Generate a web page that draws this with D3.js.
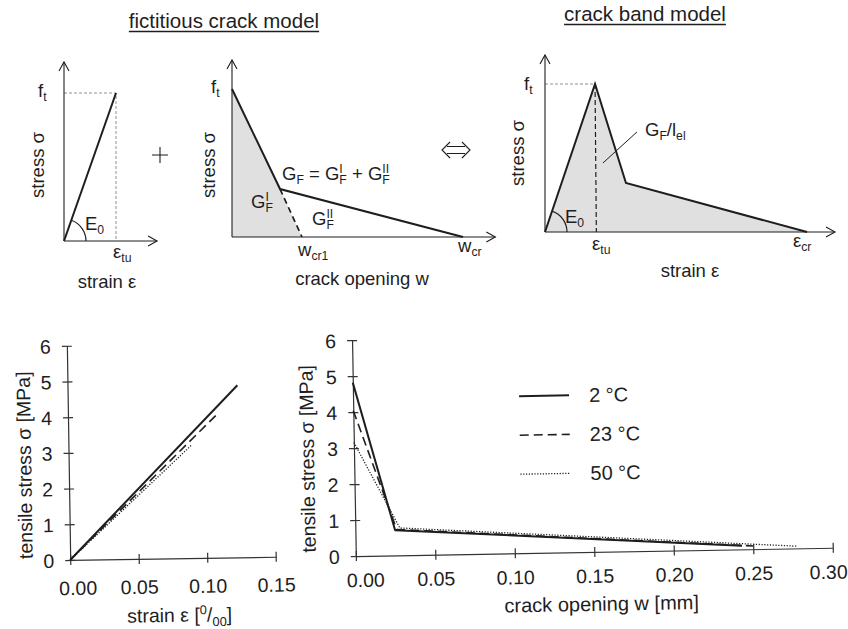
<!DOCTYPE html>
<html><head><meta charset="utf-8">
<script src="https://cdn.jsdelivr.net/npm/d3@7"></script>
<style>
body{margin:0;background:#fff;}
svg{display:block;background:#fff;}
text{font-family:"Liberation Sans",Arial,Helvetica,sans-serif;fill:#1e1e1e;}
</style></head><body>
<svg id="c" width="848" height="629"></svg>
<script>
// ================= DATA =================
// bottom-left: tensile stress vs strain (pre-peak)
const strainTicks = [0, 0.05, 0.10, 0.15];
const stressTicks = [0, 1, 2, 3, 4, 5, 6];
const wTicks = [0, 0.05, 0.10, 0.15, 0.20, 0.25, 0.30];
const tempLabels = ["2 °C", "23 °C", "50 °C"];
const strain2C  = [[0, 0], [0.124, 4.82]];
const strain23C = [[0, 0], [0.110, 4.06]];
const strain50C = [[0, 0], [0.090, 3.17]];
// bottom-right: softening curves (stress vs crack opening)
const soft2C  = [[0, 4.82], [0.025, 0.70], [0.243, 0.10]];
const soft23C = [[0, 4.04], [0.026, 0.72], [0.250, 0.09]];
const soft50C = [[0, 3.16], [0.028, 0.76], [0.278, 0.06]];
// schematic sketches, normalised units (f_t = 1)
const sk1Line   = [[0, 0], [1, 1]];                 // eps_tu = 1
const sk1Guide  = [[0, 1], [1, 1], [1, 0]];
const sk2Soft   = [[0, 1], [0.208, 0.324], [1, 0]]; // w_cr = 1
const sk2Dash   = [[0.208, 0.324], [0.303, 0]];     // w_cr1
const sk2ShadeI = [[0, 0], [0, 1], [0.208, 0.324], [0.303, 0]];
const sk3Curve  = [[0, 0], [0.191, 1], [0.309, 0.331], [1, 0]]; // eps_cr = 1
const sk3GuideH = [[0, 1], [0.191, 1]];
const sk3GuideV = [[0.191, 1], [0.196, 0]];
const sk3Leader = [[0.351, 0.676], [0.221, 0.466]];

// ================= HELPERS =================
const svg = d3.select("#c");
const INK = "#1e1e1e";

function rich(g, x, y, parts, size, opts = {}) {
  const t = g.append("text").attr("x", x).attr("y", y).attr("font-size", size);
  if (opts.anchor) t.attr("text-anchor", opts.anchor);
  if (opts.transform) t.attr("transform", opts.transform);
  let cur = 0, pend = 0;
  const sm = size * 0.66, supOff = -size * 0.38, subOff = size * 0.24;
  const add = (txt, off, fs, dx) => {
    const ts = t.append("tspan").attr("dy", off - cur).text(txt);
    if (fs) ts.attr("font-size", fs);
    if (dx) ts.attr("dx", dx);
    cur = off;
    return ts;
  };
  parts.forEach(p => {
    if (typeof p === "string") { add(p, 0, null, pend); pend = 0; }
    else if (p.sup != null && p.sub != null) {
      const a = add(p.sup, supOff, sm, pend);
      const wa = a.node().getComputedTextLength();
      const b = add(p.sub, subOff, sm, -wa);
      const wb = b.node().getComputedTextLength();
      pend = Math.max(0, wa - wb);
    } else if (p.sup != null) { add(p.sup, supOff, sm, pend); pend = 0; }
    else if (p.sub != null) { add(p.sub, subOff, sm, pend); pend = 0; }
  });
  return t;
}
function arrowUp(g, x, y) {
  g.append("path").attr("d", `M${x-5},${y+9}L${x},${y}L${x+5},${y+9}`)
    .attr("fill", "none").attr("stroke", INK).attr("stroke-width", 1.1);
}
function arrowRight(g, x, y) {
  g.append("path").attr("d", `M${x-9},${y-5}L${x},${y}L${x-9},${y+5}`)
    .attr("fill", "none").attr("stroke", INK).attr("stroke-width", 1.1);
}
function sketchAxes(g, sx, sy, xmax, ymax) {
  g.append("line").attr("x1", sx(0)).attr("y1", sy(0)).attr("x2", sx(0)).attr("y2", sy(ymax))
    .attr("stroke", INK).attr("stroke-width", 1.1);
  g.append("line").attr("x1", sx(0)).attr("y1", sy(0)).attr("x2", sx(xmax)).attr("y2", sy(0))
    .attr("stroke", INK).attr("stroke-width", 1.1);
  arrowUp(g, sx(0), sy(ymax));
  arrowRight(g, sx(xmax), sy(0));
}
function title(x, y, txt) {
  const t = svg.append("text").attr("x", x).attr("y", y).attr("text-anchor", "middle")
    .attr("font-size", 20.5).text(txt);
  const w = t.node().getComputedTextLength();
  svg.append("line").attr("x1", x - w / 2).attr("x2", x + w / 2).attr("y1", y + 3.5).attr("y2", y + 3.5)
    .attr("stroke", INK).attr("stroke-width", 1.3);
}
const FS = 18.5;

// ================= TITLES =================
title(224, 28, "fictitious crack model");
title(645, 21, "crack band model");

// ================= SKETCH 1 =================
{
  const g = svg.append("g");
  const sx = d3.scaleLinear([0, 1], [64, 116]);
  const sy = d3.scaleLinear([0, 1], [241, 93]);
  const ln = d3.line().x(d => sx(d[0])).y(d => sy(d[1]));
  g.append("path").attr("d", ln(sk1Guide)).attr("fill", "none").attr("stroke", "#777")
    .attr("stroke-width", 0.8).attr("stroke-dasharray", "3,2");
  sketchAxes(g, sx, sy, 1.79, 1.21);
  g.append("path").attr("d", ln(sk1Line)).attr("fill", "none").attr("stroke", INK).attr("stroke-width", 2);
  const ang = Math.atan2(sy(1) - sy(0), sx(1) - sx(0));
  const p = d3.path(); p.arc(sx(0), sy(0), 22, ang, 0);
  g.append("path").attr("d", p.toString()).attr("fill", "none").attr("stroke", INK).attr("stroke-width", 1.2);
  rich(g, 38, 97, ["f", {sub: "t"}], FS);
  rich(g, 0, 0, ["stress σ"], FS, {anchor: "middle", transform: "translate(44,165) rotate(-90)"});
  rich(g, 85, 230, ["E", {sub: "0"}], FS);
  rich(g, 113, 258, ["ε", {sub: "tu"}], FS);
  rich(g, 107, 288, ["strain ε"], FS, {anchor: "middle"});
  // plus sign
  g.append("path").attr("d", "M152,155H168M160,147V163").attr("stroke", INK).attr("stroke-width", 1.1);
}

// ================= SKETCH 2 =================
{
  const g = svg.append("g");
  const sx = d3.scaleLinear([0, 1], [232, 463]);
  const sy = d3.scaleLinear([0, 1], [237, 89]);
  const ln = d3.line().x(d => sx(d[0])).y(d => sy(d[1]));
  g.append("path").attr("d", ln(sk2ShadeI) + "Z").attr("fill", "#e0e0e0").attr("stroke", "none");
  sketchAxes(g, sx, sy, 1.14, 1.196);
  g.append("path").attr("d", ln(sk2Soft)).attr("fill", "none").attr("stroke", INK).attr("stroke-width", 2);
  g.append("path").attr("d", ln(sk2Dash)).attr("fill", "none").attr("stroke", INK)
    .attr("stroke-width", 1.7).attr("stroke-dasharray", "6,4");
  rich(g, 211, 93, ["f", {sub: "t"}], FS);
  rich(g, 0, 0, ["stress σ"], FS, {anchor: "middle", transform: "translate(215,165) rotate(-90)"});
  rich(g, 282, 180, ["G", {sub: "F"}, " = G", {sup: "I", sub: "F"}, " + G", {sup: "II", sub: "F"}], FS);
  rich(g, 251, 208, ["G", {sup: "I", sub: "F"}], FS);
  rich(g, 312, 225, ["G", {sup: "II", sub: "F"}], FS);
  rich(g, 298, 256, ["w", {sub: "cr1"}], FS);
  rich(g, 458, 252, ["w", {sub: "cr"}], FS);
  rich(g, 362, 285, ["crack opening w"], FS, {anchor: "middle"});
  // equivalence arrow
  g.append("path").attr("d", "M447,146.5H465M447,153.5H465M450,142L442,150L450,158M462,142L470,150L462,158")
    .attr("fill", "none").attr("stroke", INK).attr("stroke-width", 1.1);
}

// ================= SKETCH 3 =================
{
  const g = svg.append("g");
  const sx = d3.scaleLinear([0, 1], [545, 807]);
  const sy = d3.scaleLinear([0, 1], [232, 84]);
  const ln = d3.line().x(d => sx(d[0])).y(d => sy(d[1]));
  g.append("path").attr("d", ln(sk3Curve) + "Z").attr("fill", "#e0e0e0").attr("stroke", "none");
  g.append("path").attr("d", ln(sk3GuideH)).attr("fill", "none").attr("stroke", "#777")
    .attr("stroke-width", 0.8).attr("stroke-dasharray", "3,2");
  g.append("path").attr("d", ln(sk3GuideV)).attr("fill", "none").attr("stroke", INK)
    .attr("stroke-width", 1.2).attr("stroke-dasharray", "5,3");
  sketchAxes(g, sx, sy, 1.107, 1.196);
  g.append("path").attr("d", ln(sk3Curve)).attr("fill", "none").attr("stroke", INK).attr("stroke-width", 2);
  g.append("path").attr("d", ln(sk3Leader)).attr("fill", "none").attr("stroke", INK).attr("stroke-width", 1);
  const ang = Math.atan2(sy(1) - sy(0), sx(0.191) - sx(0));
  const p = d3.path(); p.arc(sx(0), sy(0), 22, ang, 0);
  g.append("path").attr("d", p.toString()).attr("fill", "none").attr("stroke", INK).attr("stroke-width", 1.2);
  rich(g, 524, 90, ["f", {sub: "t"}], FS);
  rich(g, 0, 0, ["stress σ"], FS, {anchor: "middle", transform: "translate(524,153) rotate(-90)"});
  rich(g, 645, 136, ["G", {sub: "F"}, "/l", {sub: "el"}], FS);
  rich(g, 565, 223, ["E", {sub: "0"}], FS);
  rich(g, 592, 250, ["ε", {sub: "tu"}], FS);
  rich(g, 793, 247, ["ε", {sub: "cr"}], FS);
  rich(g, 690, 277, ["strain ε"], FS, {anchor: "middle"});
}

// ================= BOTTOM CHARTS =================
const seriesStyle = [
  {w: 2, dash: null},
  {w: 1.6, dash: "9,5"},
  {w: 1.3, dash: "1.2,1.6"}
];
const TS = 19.5;

function styleAxis(ax, horiz, labelOff) {
  ax.select(".domain").attr("stroke", "#333").attr("stroke-width", 1.2);
  ax.selectAll(".tick line").attr("stroke", "#333").attr("stroke-width", 1.2)
    .attr(horiz ? "y1" : "x1", -5).attr(horiz ? "y2" : "x2", 5);
  ax.selectAll(".tick text").attr("font-size", TS).attr("fill", INK)
    .attr("font-family", '"Liberation Sans",Arial,sans-serif');
  if (horiz) ax.selectAll(".tick text").attr("y", labelOff).attr("dy", 0);
  else ax.selectAll(".tick text").attr("x", -labelOff).attr("dy", "0.36em");
}

// ---- left: stress-strain ----
{
  const g = svg.append("g").attr("transform", "rotate(-0.9,170,450)");
  const x = d3.scaleLinear([0, 0.15], [68.5, 274]);
  const y = d3.scaleLinear([0, 6], [558.4, 344.2]);
  const ax = g.append("g").attr("transform", `translate(0,${y(0)})`)
    .call(d3.axisBottom(x).tickValues(strainTicks).tickFormat(d3.format(".2f")).tickSizeOuter(0));
  styleAxis(ax, true, 35);
  ax.selectAll(".tick text").filter(d => d === 0).attr("dx", 7);
  const ay = g.append("g").attr("transform", `translate(${x(0)},0)`)
    .call(d3.axisLeft(y).tickValues(stressTicks).tickFormat(d3.format("d")).tickSizeOuter(0));
  styleAxis(ay, false, 16);
  const ln = d3.line().x(d => x(d[0])).y(d => y(d[1]));
  [strain2C, strain23C, strain50C].forEach((s, i) => {
    const p = g.append("path").attr("d", ln(s)).attr("fill", "none").attr("stroke", INK)
      .attr("stroke-width", seriesStyle[i].w);
    if (seriesStyle[i].dash) p.attr("stroke-dasharray", seriesStyle[i].dash);
  });
  rich(g, 0, 0, ["tensile stress σ [MPa]"], TS, {anchor: "middle", transform: "translate(31,463) rotate(-90)"});
  rich(g, 177, 622, ["strain ε [", {sup: "0"}, "/", {sub: "00"}, "]"], TS, {anchor: "middle"});
}

// ---- right: softening ----
{
  const g = svg.append("g").attr("transform", "rotate(-1,590,450)");
  const x = d3.scaleLinear([0, 0.30], [354, 831]);
  const y = d3.scaleLinear([0, 6], [552, 336]);
  const ax = g.append("g").attr("transform", `translate(0,${y(0)})`)
    .call(d3.axisBottom(x).tickValues(wTicks).tickFormat(d3.format(".2f")).tickSizeOuter(0));
  styleAxis(ax, true, 31);
  ax.selectAll(".tick text").filter(d => d === 0).attr("dx", 9);
  ax.selectAll(".tick text").filter(d => Math.abs(d - 0.3) < 1e-9).attr("dx", -5);
  const ay = g.append("g").attr("transform", `translate(${x(0)},0)`)
    .call(d3.axisLeft(y).tickValues(stressTicks).tickFormat(d3.format("d")).tickSizeOuter(0));
  styleAxis(ay, false, 16);
  const ln = d3.line().x(d => x(d[0])).y(d => y(d[1]));
  [soft2C, soft23C, soft50C].forEach((s, i) => {
    const p = g.append("path").attr("d", ln(s)).attr("fill", "none").attr("stroke", INK)
      .attr("stroke-width", seriesStyle[i].w).attr("stroke-linejoin", "round");
    if (seriesStyle[i].dash) p.attr("stroke-dasharray", seriesStyle[i].dash);
  });
  // legend
  const ly = d3.scaleLinear([0, 2], [395, 473]);
  tempLabels.forEach((lab, i) => {
    const l = g.append("line").attr("x1", 520).attr("x2", 570).attr("y1", ly(i)).attr("y2", ly(i))
      .attr("stroke", INK).attr("stroke-width", seriesStyle[i].w);
    if (seriesStyle[i].dash) l.attr("stroke-dasharray", seriesStyle[i].dash);
    g.append("text").attr("x", 590).attr("y", ly(i) + 7).attr("font-size", TS + 0.5).text(lab);
  });
  rich(g, 0, 0, ["tensile stress σ [MPa]"], TS, {anchor: "middle", transform: "translate(314,454) rotate(-90)"});
  rich(g, 599, 611, ["crack opening w [mm]"], TS + 0.5, {anchor: "middle"});
}
</script>
</body></html>
